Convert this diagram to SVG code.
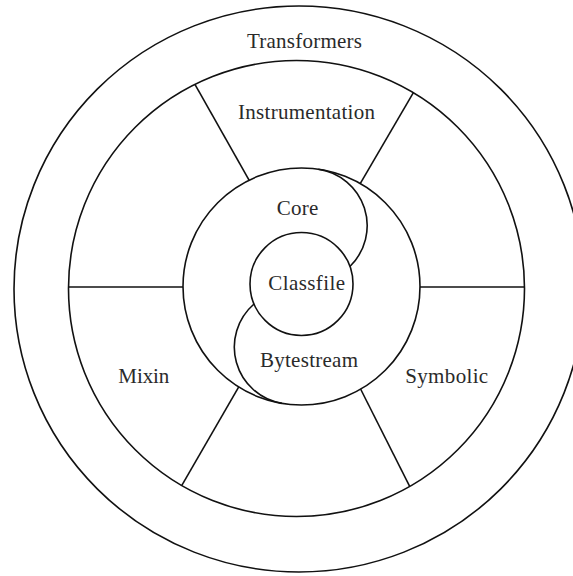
<svg xmlns="http://www.w3.org/2000/svg" width="573" height="576" viewBox="0 0 573 576">
  <style>
    .ln { fill: none; stroke: #111; stroke-width: 1.6; }
    .lbl { font-family: "Liberation Serif", "Times New Roman", serif; font-size: 21px; fill: #2a2a2a; text-anchor: middle; }
  </style>
  <defs>
    <clipPath id="ring">
      <path clip-rule="evenodd" d="M 68.5 288.5 A 228 228 0 1 0 524.5 288.5 A 228 228 0 1 0 68.5 288.5 Z M 183 286.5 A 118.5 118.5 0 1 0 420 286.5 A 118.5 118.5 0 1 0 183 286.5 Z"/>
    </clipPath>
  </defs>
  <rect width="573" height="576" fill="#fff"/>

  <g id="transformers">
    <ellipse class="ln" cx="299" cy="289" rx="285" ry="283"/>
    <text class="lbl" x="304.5" y="48" textLength="115">Transformers</text>
  </g>

  <g id="middle-ring">
    <circle class="ln" cx="296.5" cy="288.5" r="228"/>
  </g>

  <g id="connectors" clip-path="url(#ring)">
    <line class="ln" x1="258.8" y1="197.4" x2="190" y2="75.6"/>
    <line class="ln" x1="351.6" y1="198.3" x2="422" y2="77.9"/>
    <line class="ln" x1="247" y1="372.7" x2="172" y2="502.3"/>
    <line class="ln" x1="353" y1="374" x2="419" y2="504.9"/>
    <line class="ln" x1="50" y1="287" x2="200" y2="287"/>
    <line class="ln" x1="400" y1="287" x2="545" y2="287"/>
  </g>

  <g id="instrumentation">
    <text class="lbl" x="306.5" y="119" textLength="137">Instrumentation</text>
  </g>
  <g id="mixin">
    <text class="lbl" x="143.8" y="383" textLength="51">Mixin</text>
  </g>
  <g id="symbolic">
    <text class="lbl" x="446.7" y="383" textLength="83">Symbolic</text>
  </g>

  <g id="inner-ring">
    <circle class="ln" cx="301.5" cy="286.5" r="118.5"/>
    <path class="ln" d="M 318.3 169.2 A 57 57 0 0 1 349.9 266.5"/>
    <path class="ln" d="M 254.0 304.0 A 57 57 0 0 0 281.9 403.3"/>
  </g>

  <g id="core">
    <text class="lbl" x="297.5" y="215" textLength="41.6">Core</text>
  </g>
  <g id="bytestream">
    <text class="lbl" x="309" y="367" textLength="98">Bytestream</text>
  </g>

  <g id="classfile">
    <circle class="ln" cx="301.5" cy="284" r="51.5"/>
    <text class="lbl" x="306.7" y="290" textLength="76.7">Classfile</text>
  </g>
</svg>
